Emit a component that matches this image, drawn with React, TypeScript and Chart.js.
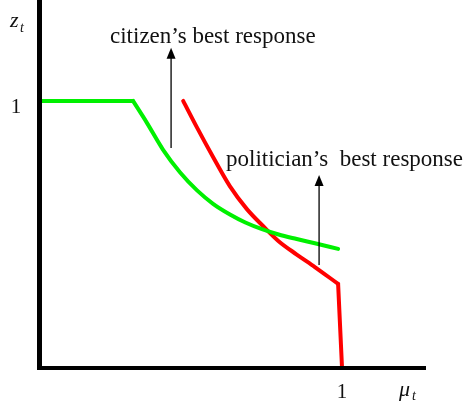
import React, { useEffect, useRef } from "react";
import { Chart, registerables } from "chart.js";
Chart.register(...registerables);

const citizenFlatX = [0, 0.308];
const citizenFlatY = [1.0, 1.0];
const citizenX = [0.308, 0.354, 0.407, 0.464, 0.52, 0.573, 0.629, 0.68, 0.735, 0.79, 0.85, 0.91, 0.987];
const citizenY = [1.0, 0.918, 0.818, 0.732, 0.665, 0.615, 0.575, 0.545, 0.52, 0.5, 0.483, 0.467, 0.446];
const politicianX = [0.474, 0.52, 0.573, 0.629, 0.685, 0.74, 0.79, 0.85, 0.91, 0.987];
const politicianY = [1.0, 0.9, 0.79, 0.68, 0.595, 0.53, 0.475, 0.425, 0.378, 0.315];
const politicianDropX = [0.987, 1.0];
const politicianDropY = [0.315, 0];
const citizenArrow = { x: 0.434, from: 0.824, to: 1.199 };
const politicianArrow = { x: 0.924, from: 0.386, to: 0.723 };
const xTickLabels = ["1"];
const yTickLabels = ["1"];
const citizenLabel = "citizen\u2019s best response";
const politicianLabel = "politician\u2019s  best response";

const overlay = {
  id: "overlay",
  afterDraw(chart: any) {
    const ctx = chart.ctx;
    const xs = chart.scales.x;
    const ys = chart.scales.y;
    const ca = chart.chartArea;
    ctx.save();
    ctx.fillStyle = "#000";
    ctx.fillRect(ca.left - 3, 0, 5, ys.getPixelForValue(0) + 2);
    ctx.fillRect(ca.left - 3, ys.getPixelForValue(0) - 2, ca.right - ca.left + 3, 4);
    const arrow = (a: any) => {
      const px = xs.getPixelForValue(a.x);
      const y0 = ys.getPixelForValue(a.from);
      const y1 = ys.getPixelForValue(a.to);
      ctx.strokeStyle = "#000";
      ctx.lineWidth = 1.3;
      ctx.beginPath();
      ctx.moveTo(px, y0);
      ctx.lineTo(px, y1 + 8);
      ctx.stroke();
      ctx.beginPath();
      ctx.moveTo(px, y1);
      ctx.lineTo(px - 4.5, y1 + 11);
      ctx.lineTo(px + 4.5, y1 + 11);
      ctx.closePath();
      ctx.fill();
    };
    arrow(citizenArrow);
    arrow(politicianArrow);
    ctx.fillStyle = "#111";
    ctx.font = "23px 'Liberation Serif', serif";
    ctx.textBaseline = "middle";
    ctx.textAlign = "left";
    ctx.fillText(citizenLabel, 110, 37);
    ctx.fillText(politicianLabel, 226, 160);
    ctx.font = "21px 'Liberation Serif', serif";
    ctx.textAlign = "center";
    ctx.fillText(yTickLabels[0], 16, ys.getPixelForValue(1) + 7);
    ctx.fillText(xTickLabels[0], xs.getPixelForValue(1), 392);
    ctx.font = "italic 22px 'Liberation Serif', serif";
    ctx.textAlign = "left";
    ctx.fillText("z", 10, 21);
    ctx.fillText("\u03bc", 399, 390);
    ctx.font = "italic 14px 'Liberation Serif', serif";
    ctx.fillText("t", 20, 28);
    ctx.fillText("t", 412, 396);
    ctx.restore();
  },
};

const lineDs = (xs: number[], ys: number[], color: string, smooth: boolean) => ({
  data: xs.map((x, i) => ({ x, y: ys[i] })),
  borderColor: color,
  borderWidth: 4,
  showLine: true,
  pointRadius: 0,
  borderCapStyle: "round",
  borderJoinStyle: "round",
  cubicInterpolationMode: smooth ? "monotone" : "default",
  tension: 0,
});

export default function App() {
  const ref = useRef<HTMLCanvasElement>(null);
  useEffect(() => {
    const chart = new Chart(ref.current!, {
      type: "scatter",
      data: {
        datasets: [
          lineDs(citizenFlatX, citizenFlatY, "#00f000", false),
          lineDs(citizenX, citizenY, "#00f000", true),
          lineDs(politicianX, politicianY, "#ff0000", true),
          lineDs(politicianDropX, politicianDropY, "#ff0000", false),
        ],
      },
      options: {
        responsive: false,
        animation: false,
        layout: { padding: { left: 40, right: 38, top: 0, bottom: 38 } },
        plugins: { legend: { display: false }, tooltip: { enabled: false } },
        scales: {
          x: { type: "linear", min: 0, max: 1.278, display: false },
          y: { type: "linear", min: 0, max: 1.378, display: false },
        },
      },
      plugins: [overlay],
    } as any);
    return () => chart.destroy();
  }, []);
  return (
    <div style={{ position: "fixed", left: 0, top: 0, width: 464, height: 406, background: "#fff" }}>
      <canvas ref={ref} width={464} height={406} />
    </div>
  );
}
